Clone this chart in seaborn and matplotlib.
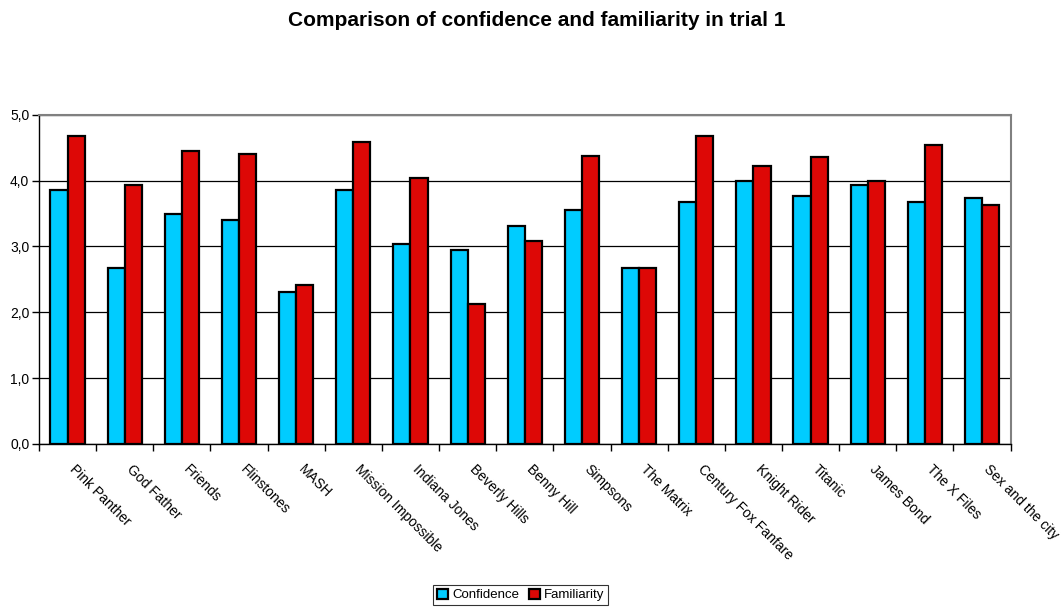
import matplotlib
matplotlib.use("Agg")
import matplotlib.pyplot as plt
import matplotlib.transforms as mtransforms
import seaborn as sns
import pandas as pd
from matplotlib.ticker import FuncFormatter, FixedLocator
from matplotlib.patches import Patch

categories = ["Pink Panther", "God Father", "Friends", "Flinstones", "MASH",
              "Mission Impossible", "Indiana Jones", "Beverly Hills", "Benny Hill",
              "Simpsons", "The Matrix", "Century Fox Fanfare", "Knight Rider",
              "Titanic", "James Bond", "The X Files", "Sex and the city"]
confidence = [3.86, 2.67, 3.50, 3.40, 2.31, 3.86, 3.04, 2.95, 3.31, 3.55, 2.67,
              3.68, 4.00, 3.77, 3.94, 3.68, 3.73]
familiarity = [4.68, 3.94, 4.45, 4.41, 2.41, 4.59, 4.04, 2.13, 3.09, 4.37, 2.67,
               4.68, 4.22, 4.36, 4.00, 4.54, 3.63]
series_names = ["Confidence", "Familiarity"]
colors = ["#00CCFF", "#DD0806"]
title = "Comparison of confidence and familiarity in trial 1"

df = pd.DataFrame({
    "cat": categories * 2,
    "value": confidence + familiarity,
    "series": [series_names[0]] * len(categories) + [series_names[1]] * len(categories),
})

sns.set_theme(style="white")
plt.rcParams["font.family"] = ["Liberation Sans", "DejaVu Sans"]
plt.rcParams["text.color"] = "black"
plt.rcParams["xtick.color"] = "black"
plt.rcParams["ytick.color"] = "black"

fig = plt.figure(figsize=(10.63, 6.08), dpi=100)
ax = fig.add_axes([0.0367, 0.270, 0.914, 0.541])

sns.barplot(data=df, x="cat", y="value", hue="series", order=categories,
            hue_order=series_names, palette=colors, width=0.6, gap=0,
            edgecolor="black", linewidth=1.6, saturation=1, ax=ax, legend=False,
            zorder=3)

ax.set_xlim(-0.5, len(categories) - 0.5)
ax.set_ylim(0, 5)
ax.set_yticks([0, 1, 2, 3, 4, 5])
ax.yaxis.set_major_formatter(FuncFormatter(lambda v, p: f"{v:.1f}".replace(".", ",")))
ax.grid(axis="y", color="black", linewidth=0.9, zorder=0)
ax.set_axisbelow(True)
ax.set_xlabel("")
ax.set_ylabel("")

for s in ["left", "bottom"]:
    ax.spines[s].set_color("black")
    ax.spines[s].set_linewidth(1.0)
for s in ["top", "right"]:
    ax.spines[s].set_color("#808080")
    ax.spines[s].set_linewidth(1.5)

ax.tick_params(axis="y", which="major", left=True, length=5, width=1, color="black",
               labelsize=10, labelcolor="black", pad=2)
ax.set_xticks(range(len(categories)))
ax.set_xticklabels(categories, rotation=-45, ha="left", va="top",
                   rotation_mode="anchor", fontsize=10, color="black")
ax.tick_params(axis="x", which="major", bottom=False, length=0, pad=13)
ax.xaxis.set_minor_locator(FixedLocator([i - 0.5 for i in range(len(categories) + 1)]))
ax.tick_params(axis="x", which="minor", bottom=True, length=5, width=1, color="black")
offset = mtransforms.ScaledTranslation(9 / 100, 0, fig.dpi_scale_trans)
for lbl in ax.get_xticklabels():
    lbl.set_transform(lbl.get_transform() + offset)

fig.text(0.505, 0.967, title, ha="center", va="center", fontsize=15,
         fontweight="bold", color="black")

handles = [Patch(facecolor=c, edgecolor="black", linewidth=1.6) for c in colors]
leg = fig.legend(handles, series_names, loc="center", bbox_to_anchor=(0.49, 0.0215),
                 ncol=2, frameon=True, fancybox=False, fontsize=9.5,
                 handlelength=0.8, handleheight=0.8, handletextpad=0.3,
                 columnspacing=0.8, borderpad=0.3, borderaxespad=0)
leg.get_frame().set_edgecolor("black")
leg.get_frame().set_linewidth(0.8)
for t in leg.get_texts():
    t.set_color("black")

fig.savefig("out.png", dpi=100)
